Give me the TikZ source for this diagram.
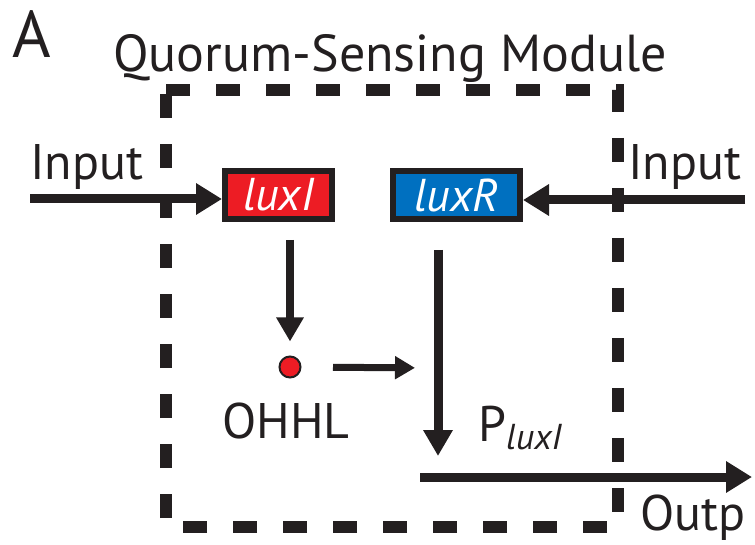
\documentclass[tikz,border=0pt]{standalone}
\usepackage{fontspec}
\setmainfont{PT Sans}
\usetikzlibrary{arrows.meta}
\definecolor{luxred}{HTML}{ED1C24}
\definecolor{luxblue}{HTML}{0070C0}
\definecolor{ink}{HTML}{231F20}
\begin{document}
\begin{tikzpicture}[x=1pt,y=-1pt,
  lbl/.style={inner sep=0pt,text=ink,font=\fontsize{50}{50}\selectfont},
  gene/.style={draw=ink,line width=6pt,minimum height=48pt,inner sep=0pt,text=white,font=\fontsize{46}{46}\selectfont\itshape},
  bigarrow/.style={draw=ink,line width=9pt,-{Triangle[length=26pt,width=30pt]}},
  downarrow/.style={draw=ink,line width=8pt,-{Triangle[length=24pt,width=26pt]}},
  midarrow/.style={draw=ink,line width=7pt,-{Triangle[length=20pt,width=22pt]}},
  module/.style={draw=ink,line width=12pt,dash pattern=on 24pt off 26pt}]
\useasboundingbox (0,0) rectangle (755,545);
\clip (0,0) rectangle (755,545);
\node[lbl,anchor=base west,font=\fontsize{66}{66}\selectfont] (A) at (12,58) {A};
\node[lbl,anchor=base,font=\fontsize{52}{52}\selectfont] (title) at (390,72) {Quorum-Sensing Module};
\draw[module] (166,90) -- (618,90) -- (618,527) -- (166,527) -- cycle;
\node[gene,fill=luxred,minimum width=107pt] (luxI) at (278.5,195) {luxI};
\node[gene,fill=luxblue,minimum width=127pt] (luxR) at (456.5,195) {luxR};
\node[lbl,anchor=base west] (inL) at (30,180) {Input};
\node[lbl,anchor=base west] (inR) at (628,180) {Input};
\coordinate (inLs) at (30,199);
\coordinate (inRs) at (745,200);
\draw[bigarrow] (inLs) -- (luxI.west |- inLs);
\draw[bigarrow] (inRs) -- (luxR.east |- inRs);
\node[circle,draw=ink,fill=luxred,line width=2pt,minimum size=21pt,inner sep=0pt] (ohhl) at (290,367) {};
\node[lbl,anchor=base] (ohhlt) at (286,438) {OHHL};
\draw[downarrow,shorten <=18pt,shorten >=14pt] (luxI.south -| ohhl) -- (ohhl.north);
\coordinate (pr) at (438,368);
\draw[midarrow,shorten <=43pt,shorten >=23pt] (ohhl.center) -- (pr);
\coordinate (pd) at (438,456);
\draw[bigarrow,-{Triangle[length=26pt,width=28pt]},shorten <=28pt] (luxR.south -| pd) -- (pd);
\node[lbl,anchor=base west] (P) at (478,441) {P\raisebox{-8pt}{\fontsize{36}{36}\selectfont\itshape luxI}};
\coordinate (outS) at (420,477);
\coordinate (outE) at (752,477);
\draw[bigarrow] (outS) -- (outE);
\node[lbl,anchor=base west] (out) at (640,530) {Outp};
\end{tikzpicture}
\end{document}
